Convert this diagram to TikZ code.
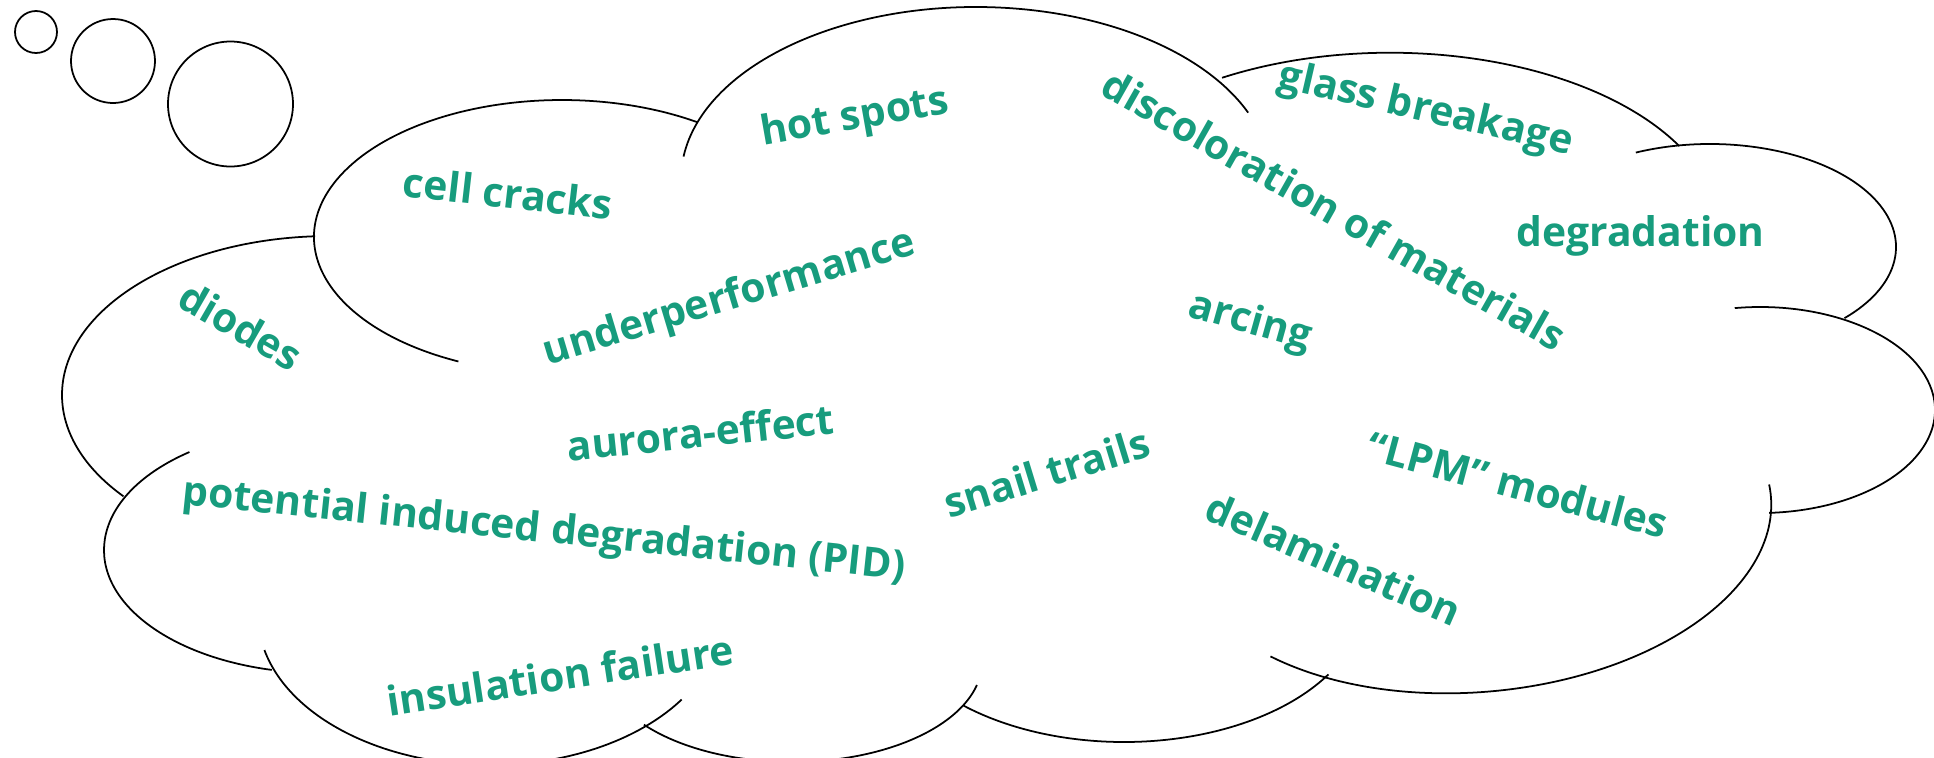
\documentclass[tikz,border=0pt]{standalone}
\usepackage{fontspec}
\setmainfont{Open Sans}
\definecolor{fhgreen}{HTML}{179C7D}

\begin{document}
\begin{tikzpicture}[
        x=0.01cm, y=-0.01cm,
        puff/.style={draw=black, line width=0.5pt},
        issue/.style={text=fhgreen, font=\bfseries\fontsize{11.6}{13}\selectfont, anchor=base, inner sep=0pt}
    ]
        \useasboundingbox (0,0) rectangle (1934,757);
        \clip (0,0) rectangle (1934,757);

        % small bubbles
        \draw[puff] (36,32) circle[radius=21];
        \draw[puff] (113,61) circle[radius=42];
        \draw[puff] (230.5,104) circle[radius=62.5];

        % cloud outline, one arc per lobe
        \draw[puff] (562,237) ++(114.7:248 and 137) arc[start angle=114.7, end angle=303.1, x radius=248, y radius=137];
        \draw[puff] (330,395) ++(266.8:268 and 159) arc[start angle=266.8, end angle=140.4, x radius=268, y radius=159];
        \draw[puff] (320,550) ++(232.8:216 and 123) arc[start angle=232.8, end angle=102.9, x radius=216, y radius=123];
        \draw[puff] (490,615) ++(166.5:232 and 150) arc[start angle=166.5, end angle=34.3, x radius=232, y radius=150];
        \draw[puff] (792,662) ++(141.2:190 and 100) arc[start angle=141.2, end angle=13.3, x radius=190, y radius=100];
        \draw[puff] (1124,600) ++(131.9:240 and 142) arc[start angle=131.9, end angle=31.6, x radius=240, y radius=142];
        \draw[puff, rotate around={5:(1476,522)}] (1476,522) ++(137:296 and 170) arc[start angle=137, end angle=-4, x radius=296, y radius=170];
        \draw[puff] (1760,410) ++(261.7:175 and 103) arc[start angle=261.7, end angle=447, x radius=175, y radius=103];
        \draw[puff] (1710,247) ++(246.5:186 and 103) arc[start angle=246.5, end angle=403.7, x radius=186, y radius=103];
        \draw[puff] (1390,232.7) ++(239.4:330 and 180) arc[start angle=239.4, end angle=331.2, x radius=330, y radius=180];
        \draw[puff] (976,179) ++(187.5:295 and 172) arc[start angle=187.5, end angle=337.3, x radius=295, y radius=172];

        % failure modes
        \node[issue, rotate=-6.5] (cellcracks) at (506.5,208) {cell cracks};
        \node[issue, rotate=10] (hotspots) at (857,129) {hot spots};
        \node[issue, rotate=-13] (glass) at (1423,121) {glass breakage};
        \node[issue, rotate=-29.5] (discolor) at (1327,223) {discoloration of materials};
        \node[issue] (degrad) at (1640.6,246) {degradation};
        \node[issue, rotate=16.7] (underperf) at (732.5,309.5) {underperformance};
        \node[issue, rotate=-30] (diodes) at (233,338.7) {diodes};
        \node[issue, rotate=-15.6] (arcing) at (1247,333) {arcing};
        \node[issue, rotate=6] (aurora) at (702,447.5) {aurora-effect};
        \node[issue, rotate=-6] (pid) at (542.6,542) {potential induced degradation (PID)};
        \node[issue, rotate=17] (snail) at (1051,487) {snail trails};
        \node[issue, rotate=-23.6] (delam) at (1328,573) {delamination};
        \node[issue, rotate=-15] (lpm) at (1514,499) {“LPM” modules};
        \node[issue, rotate=8.6] (insulation) at (562.5,690) {insulation failure};
    \end{tikzpicture}
\end{document}
